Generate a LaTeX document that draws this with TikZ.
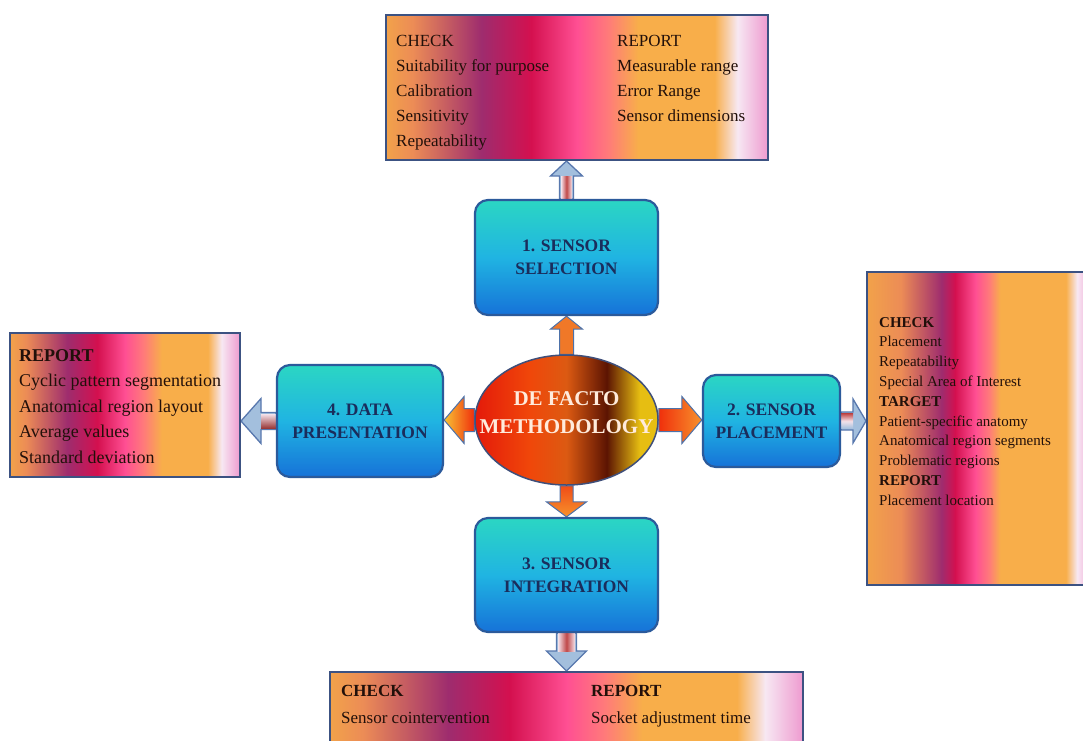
\documentclass[tikz,border=0pt]{standalone}
\usepackage{fontspec}
\setmainfont{Liberation Serif}
\usetikzlibrary{shapes.geometric,calc}

\definecolor{sOr}{HTML}{F2A24A}
\definecolor{sOr2}{HTML}{EC8C56}
\definecolor{sPu}{HTML}{9E2C6E}
\definecolor{sCr}{HTML}{D4104F}
\definecolor{sPk}{HTML}{FF4F93}
\definecolor{sSa}{HTML}{FF7A7A}
\definecolor{sOr3}{HTML}{F8AE4A}
\definecolor{sLt}{HTML}{F7E8F3}
\definecolor{sPk2}{HTML}{EE9ACF}
\definecolor{iBorder}{HTML}{3C5282}
\definecolor{iText}{HTML}{22100A}
\definecolor{bTop}{HTML}{2BD6C3}
\definecolor{bMid}{HTML}{20B4E2}
\definecolor{bBot}{HTML}{1672D8}
\definecolor{bBorder}{HTML}{2B5A9B}
\definecolor{bText}{HTML}{1A2D5C}
\definecolor{eA}{HTML}{E41A0A}
\definecolor{eB}{HTML}{F0470A}
\definecolor{eC}{HTML}{DC5A12}
\definecolor{eD}{HTML}{5C1402}
\definecolor{eE}{HTML}{E6BE12}
\definecolor{eBorder}{HTML}{3F4F7A}
\definecolor{eText}{HTML}{FFEBDC}
\definecolor{aBorder}{HTML}{4D72AA}
\definecolor{aRed}{HTML}{F0300C}
\definecolor{aOr}{HTML}{F7922C}
\definecolor{aYel}{HTML}{F8C234}
\definecolor{aOrU}{HTML}{F07828}
\definecolor{oFill}{HTML}{A3BFDD}
\definecolor{oBorder}{HTML}{5878AE}
\definecolor{oRed}{HTML}{C04848}
\definecolor{oLt}{HTML}{F4E2EA}

\pgfdeclarehorizontalshading{strip}{100bp}{color(0bp)=(sOr); color(25bp)=(sOr); color(28.5bp)=(sOr2); color(37.5bp)=(sPu); color(44bp)=(sCr); color(50bp)=(sPk); color(54bp)=(sSa); color(58bp)=(sOr3); color(68bp)=(sOr3); color(71bp)=(sLt); color(75bp)=(sPk2); color(100bp)=(sPk2)}
\pgfdeclarehorizontalshading{stripR}{100bp}{color(0bp)=(sOr); color(25bp)=(sOr); color(32.5bp)=(sOr2); color(41.5bp)=(sPu); color(44.5bp)=(sCr); color(49bp)=(sPk); color(52bp)=(sSa); color(54.5bp)=(sOr3); color(69bp)=(sOr3); color(71.5bp)=(sLt); color(75bp)=(sPk2); color(100bp)=(sPk2)}
\pgfdeclarehorizontalshading{ellsh}{100bp}{color(0bp)=(eA); color(25bp)=(eA); color(40bp)=(eB); color(50bp)=(eC); color(61bp)=(eD); color(70bp)=(eE); color(75bp)=(eE); color(100bp)=(eE)}

\pgfdeclarelayer{bg}
\pgfsetlayers{bg,main}

% block arrows: style, from, to, shaft half width, head half width, signed head length
\newcommand\blockH[6]{%
  \path[#1] let \p1=(#2), \p2=(#3) in
   (\x1,{\y1+#4}) -- ({\x2-(#6)},{\y1+#4}) -- ({\x2-(#6)},{\y1+#5}) -- (\x2,\y1) --
   ({\x2-(#6)},{\y1-#5}) -- ({\x2-(#6)},{\y1-#4}) -- (\x1,{\y1-#4}) -- cycle;}
\newcommand\blockV[6]{%
  \path[#1] let \p1=(#2), \p2=(#3) in
   ({\x1+#4},\y1) -- ({\x1+#4},{\y2-(#6)}) -- ({\x1+#5},{\y2-(#6)}) -- (\x1,\y2) --
   ({\x1-#5},{\y2-(#6)}) -- ({\x1-#4},{\y2-(#6)}) -- ({\x1-#4},\y1) -- cycle;}
\newcommand\shaftH[5]{%
  \path[#1] let \p1=(#2), \p2=(#3) in (\x1,{\y1+#4}) rectangle ({\x2-(#5)},{\y1-#4});}
\newcommand\shaftV[5]{%
  \path[#1] let \p1=(#2), \p2=(#3) in ({\x1+#4},\y1) rectangle ({\x1-#4},{\y2-(#5)});}

\tikzset{
  stepbox/.style={rounded corners=13pt, draw=bBorder, line width=2.2pt,
    top color=bTop, bottom color=bBot, middle color=bMid,
    font=\fontsize{17.5}{23}\selectfont\bfseries, text=bText, align=center, inner sep=0pt},
  infobox/.style={draw=iBorder, line width=2pt, shade, shading=strip, inner sep=0pt},
  infotext/.style={anchor=north west, align=left, inner sep=0pt, text=iText},
  carrow/.style={draw=aBorder, line width=1pt},
  oarrow/.style={draw=oBorder, line width=1.3pt, fill=oFill},
}

\begin{document}
\begin{tikzpicture}[x=1pt,y=-1pt]
\useasboundingbox (0,0) rectangle (1083,740);
\clip (0,0) rectangle (1083,740);

% information boxes
\node[infobox, minimum width=382pt, minimum height=145pt] (tbox) at (577,87.5) {};
\node[infobox, shading=stripR, minimum width=226pt, minimum height=313pt] (rbox) at (980,428.5) {};
\node[infobox, minimum width=230pt, minimum height=144pt] (lbox) at (125,405) {};
\node[infobox, minimum width=473pt, minimum height=100pt] (bbox) at (566.5,722) {};

% step boxes
\node[stepbox, minimum width=183pt, minimum height=115pt] (b1) at (566.5,257.5) {1. SENSOR\\SELECTION};
\node[stepbox, minimum width=137pt, minimum height=92pt] (b2) at (771.5,421) {2. SENSOR\\PLACEMENT};
\node[stepbox, minimum width=183pt, minimum height=114pt] (b3) at (566.5,575) {3. SENSOR\\INTEGRATION};
\node[stepbox, minimum width=166pt, minimum height=112pt] (b4) at (360,421) {4. DATA\\PRESENTATION};

% centre ellipse
\node[ellipse, minimum width=183pt, minimum height=130pt, draw=eBorder, line width=1.5pt,
      shade, shading=ellsh, inner sep=0pt] (ell) at (566.5,420) {};
\node[font=\fontsize{21}{28}\selectfont\bfseries, text=eText, align=center, inner sep=0pt]
      (elltext) at ($(ell.center)+(0,-7.5)$) {DE FACTO\\METHODOLOGY};

% texts
\node[infotext, font=\fontsize{17}{25}\selectfont] (ttl) at ($(tbox.north west)+(11,21)$)
  {CHECK\\Suitability for purpose\\Calibration\\Sensitivity\\Repeatability};
\node[infotext, font=\fontsize{17}{25}\selectfont] (ttr) at ($(tbox.north west)+(232,21)$)
  {REPORT\\Measurable range\\Error Range\\Sensor dimensions};
\node[infotext, font=\fontsize{15}{19.8}\selectfont] (rt) at ($(rbox.north west)+(13,46)$)
  {\textbf{CHECK}\\Placement\\Repeatability\\Special Area of Interest\\\textbf{TARGET}\\Patient-specific anatomy\\Anatomical region segments\\Problematic regions\\\textbf{REPORT}\\Placement location};
\node[infotext, font=\fontsize{18}{25.5}\selectfont] (lt) at ($(lbox.north west)+(10,17)$)
  {\textbf{REPORT}\\Cyclic pattern segmentation\\Anatomical region layout\\Average values\\Standard deviation};
\node[infotext, font=\fontsize{17}{27}\selectfont] (btl) at ($(bbox.north west)+(12,14)$)
  {\textbf{CHECK}\\Sensor cointervention};
\node[infotext, font=\fontsize{17}{27}\selectfont] (btr) at ($(bbox.north west)+(262,14)$)
  {\textbf{REPORT}\\Socket adjustment time};

% arrows
\begin{pgfonlayer}{bg}
  \fill[white] (0,0) rectangle (1083,740);
  % from the centre
  \blockV{carrow, fill=aOrU}{ell.north}{b1.south}{7pt}{16pt}{13pt}
  \blockH{carrow, left color=aRed, right color=aOr}{ell.east}{b2.west}{11.5pt}{23.5pt}{20pt}
  \blockH{carrow, left color=aYel, right color=aRed}{ell.west}{b4.east}{11.5pt}{23.5pt}{-20pt}
  \blockV{carrow, top color=aRed!60!aOrU, bottom color=aOr}{ell.south}{b3.north}{6.5pt}{20pt}{-15pt}
  % to the information boxes
  \blockV{oarrow}{b1.north}{tbox.south}{7pt}{16pt}{15pt}
  \shaftV{left color=oLt, right color=oLt, middle color=oRed}{b1.north}{tbox.south}{5.5pt}{15pt}
  \blockH{oarrow}{b2.east}{rbox.west |- b2.east}{9pt}{22pt}{13pt}
  \shaftH{top color=oRed, bottom color=oFill, middle color=oLt}{b2.east}{rbox.west |- b2.east}{7.5pt}{13pt}
  \blockH{oarrow}{b4.west}{lbox.east |- b4.west}{8.5pt}{22.5pt}{-20pt}
  \shaftH{top color=oLt, bottom color=oRed!80!black}{b4.west}{lbox.east |- b4.west}{7pt}{-20pt}
  \blockV{oarrow}{b3.south}{bbox.north}{10pt}{20pt}{-20pt}
  \shaftV{left color=oLt, right color=oLt, middle color=oRed}{b3.south}{bbox.north}{8.5pt}{-20pt}
\end{pgfonlayer}
\end{tikzpicture}
\end{document}
